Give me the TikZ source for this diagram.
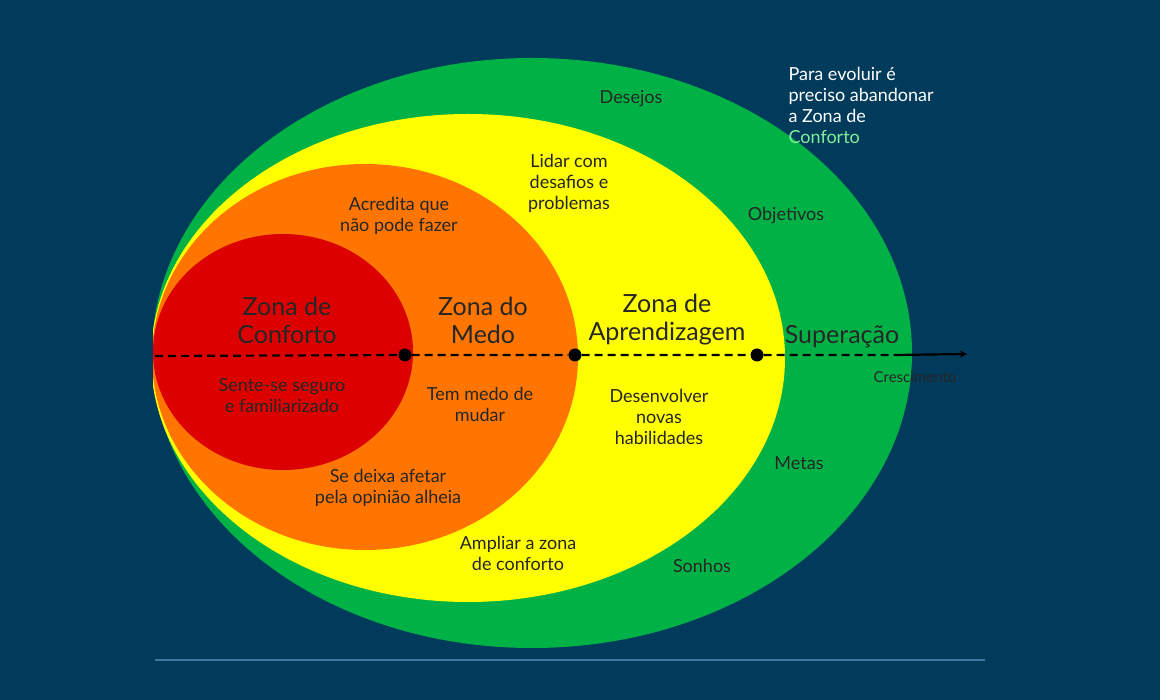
\documentclass[tikz,border=0pt]{standalone}
\usepackage{fontspec}
\setmainfont{Lato}
\definecolor{bgc}{RGB}{0,59,92}
\definecolor{grn}{RGB}{0,178,70}
\definecolor{yel}{RGB}{255,255,0}
\definecolor{org}{RGB}{255,117,0}
\definecolor{redz}{RGB}{220,0,0}
\definecolor{ln}{RGB}{60,120,160}
\definecolor{lgr}{RGB}{128,240,150}
\begin{document}
\begin{tikzpicture}[x=1pt,y=-1pt,
  sm/.style={font=\fontsize{18}{21}\selectfont,align=center,text=black!85},
  bg/.style={font=\fontsize{25}{28}\selectfont,align=center,text=black!85},
  dot/.style={circle,fill=black,inner sep=0,minimum size=13pt}]
\fill[bgc] (0,0) rectangle (1160,700);
\useasboundingbox (0,0) rectangle (1160,700);
\begin{scope}
\clip (153,0) rectangle (1160,700);
\fill[grn] (532,353) ellipse [x radius=380,y radius=295];
\fill[yel] (468,358) ellipse [x radius=317,y radius=244];
\fill[org] (365,357) ellipse [x radius=213,y radius=193];
\fill[redz] (283,352) ellipse [x radius=130,y radius=118];
\end{scope}
\draw[ln,line width=1.2] (155,660) -- (985,660);
\coordinate (s) at (155,356);
\coordinate (e) at (967,354);
\node[dot] (d1) at (405,355) {};
\node[dot] (d2) at (575,355) {};
\node[dot] (d3) at (757,355) {};
\draw[line width=2.2,dash pattern=on 8 off 5] (s) -- (d1) -- (d2) -- (d3) -- (895,355);
\draw[line width=2.2,-stealth] (895,355) -- (e);
\node[sm,font=\fontsize{15}{18}\selectfont] at (915,377) {Crescimento};
\node[bg] at (287,320) {Zona de\\Conforto};
\node[bg] at (483,320) {Zona do\\Medo};
\node[bg] at (667,320) {Zona de\\Aprendizagem};
\node[bg] at (842,337) {Superação};
\node[sm] at (282,396) {Sente-se seguro\\e familiarizado};
\node[sm] at (480,404) {Tem medo de\\mudar};
\node[sm] at (388,488) {Se deixa afetar\\pela opinião alheia};
\node[sm] at (399,216) {Acredita que\\não pode fazer};
\node[sm] at (569,183) {Lidar com\\desafios e\\problemas};
\node[sm] at (659,417) {Desenvolver\\novas\\habilidades};
\node[sm] at (518,553) {Ampliar a zona\\de conforto};
\node[sm] at (631,99) {Desejos};
\node[sm] at (786,216) {Objetivos};
\node[sm] at (799,463) {Metas};
\node[sm] at (702,566) {Sonhos};
\node[sm,text=white,align=left,anchor=north west] at (785,64) {Para evoluir é\\preciso abandonar\\a Zona de\\\textcolor{lgr}{Conforto}};
\end{tikzpicture}
\end{document}
